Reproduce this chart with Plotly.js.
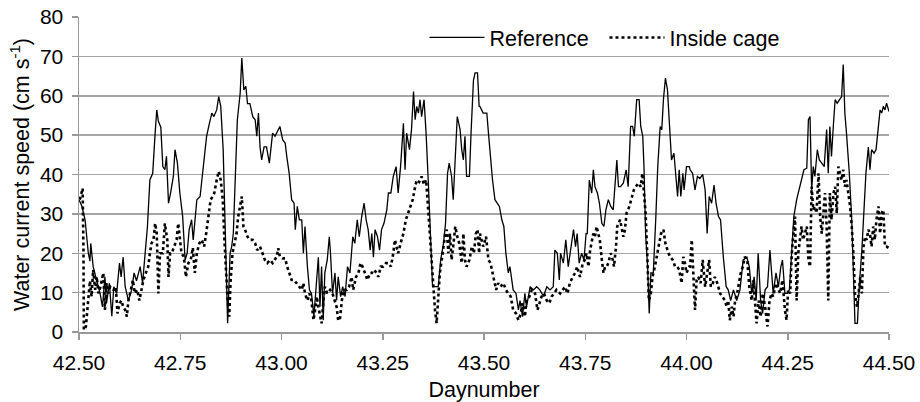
<!DOCTYPE html>
<html>
<head>
<meta charset="utf-8">
<script src="https://cdn.plot.ly/plotly-3.0.1.min.js"></script>
<style>html,body{margin:0;padding:0;background:#fff;}#chart{width:920px;height:402px;}</style>
</head>
<body>
<div id="chart"></div>
<script>
const refDay = [42.500,42.507,42.515,42.523,42.527,42.529,42.535,42.544,42.552,42.558,42.564,42.568,42.575,42.581,42.586,42.593,42.600,42.604,42.609,42.614,42.622,42.630,42.636,42.642,42.651,42.657,42.663,42.669,42.675,42.682,42.688,42.692,42.696,42.702,42.707,42.712,42.716,42.721,42.726,42.733,42.737,42.743,42.749,42.756,42.762,42.767,42.772,42.778,42.782,42.786,42.791,42.799,42.807,42.815,42.822,42.828,42.833,42.840,42.845,42.850,42.856,42.860,42.865,42.867,42.873,42.877,42.881,42.885,42.891,42.898,42.902,42.907,42.912,42.916,42.922,42.929,42.935,42.939,42.943,42.947,42.951,42.957,42.963,42.970,
42.978,42.984,42.990,42.996,43.003,43.009,43.013,43.019,43.025,43.031,43.034,43.039,43.044,43.050,43.054,43.058,43.064,43.069,43.074,43.080,43.085,43.091,43.095,43.099,43.103,43.107,43.113,43.118,43.121,43.126,43.132,43.136,43.140,43.146,43.151,43.157,43.163,43.169,43.176,43.181,43.187,43.192,43.198,43.204,43.209,43.214,43.219,43.223,43.227,43.231,43.237,43.242,43.247,43.253,43.260,43.264,43.270,43.276,43.283,43.288,43.294,43.301,43.305,43.309,43.316,43.321,43.326,43.330,43.334,43.338,43.342,43.346,43.352,43.357,43.363,43.368,43.373,43.377,43.383,43.387,43.393,43.400,43.405,43.410,43.414,43.420,43.424,43.429,43.434,43.441,43.445,43.449,43.453,43.457,43.464,43.468,43.474,43.478,43.484,43.488,
43.490,43.498,43.507,43.511,43.515,43.521,43.527,43.533,43.538,43.544,43.549,43.554,43.560,43.564,43.568,43.572,43.579,43.585,43.589,43.595,43.601,43.605,43.614,43.622,43.630,43.638,43.647,43.655,43.663,43.671,43.675,43.681,43.686,43.689,43.696,43.702,43.708,43.714,43.721,43.726,43.730,43.735,43.741,43.747,43.752,43.755,43.760,43.766,43.770,43.774,43.780,43.785,43.791,43.796,43.801,43.807,43.813,43.819,43.823,43.828,43.832,43.837,43.844,43.851,43.856,43.862,43.867,43.871,43.877,43.883,43.887,43.892,43.895,43.899,43.904,43.908,43.912,43.918,43.924,43.929,43.935,43.939,43.943,43.948,43.953,43.958,43.963,43.969,43.974,43.978,43.982,43.986,43.991,43.994,44.000,44.007,
44.009,44.015,44.021,44.027,44.033,44.040,44.046,44.051,44.056,44.062,44.068,44.073,44.079,44.084,44.091,44.098,44.103,44.109,44.116,44.124,44.132,44.140,44.149,44.155,44.161,44.167,44.172,44.177,44.183,44.188,44.194,44.200,44.206,44.210,44.214,44.221,44.227,44.233,44.237,44.243,44.249,44.254,44.260,44.265,44.272,44.279,44.284,44.290,44.297,44.301,44.305,44.309,44.313,44.317,44.323,44.328,44.334,44.340,44.346,44.350,44.354,44.358,44.363,44.367,44.372,44.379,44.383,44.387,44.391,44.395,44.402,44.408,44.412,44.416,44.422,44.427,44.433,44.438,44.443,44.449,44.453,44.457,44.463,44.468,44.474,44.478,44.482,44.486,44.490,44.494,44.500];
const refSpeed = [33.6,32,28.5,20,18,22.5,16.6,13,9.8,6.4,14,7.3,12.4,4,11.5,9.8,17.5,14,19,11.5,8,10.7,15,13,16.6,12.4,19,26.8,38.6,40.3,50.5,56.4,53.5,52,42,41.2,44.6,32.7,35.3,39.5,46.3,42.9,35.3,29.3,18.3,20,26,28.5,23.4,28.5,33.6,34.4,42,49.7,53,55.6,54.7,56.4,59.8,57.3,46.3,31.9,8,2.2,20,21.7,25,38.6,53.9,60.7,69.6,61.5,62.4,58,58,54.7,53.9,49.7,55.6,47,43.7,47,47,42.9,
50.5,49.7,51,52.2,48.8,48,44.6,40.3,33.6,32.7,26,31.9,28.5,28.5,20,26.8,16.6,10.7,9.8,4,10.7,19,6.4,16.6,3,15,18.3,24.2,20,9.8,15,8,14,9,11.5,9,16.6,15,24.2,22.5,28.5,24.2,29.3,32.7,28.5,26,20.8,25,19,26,24.2,20.8,26,27.6,31,35.3,35.3,39.5,42,35.3,42,53,41.2,50.5,46.3,51.4,61.1,53.9,57.3,55.6,59,54.7,59,50.5,36.9,25,11.5,11.5,11.5,11.5,18.3,22.5,27.6,40.3,42.9,39.5,33.6,46.3,54.7,51.4,46.3,43.7,49.7,39.5,39.5,50.5,64,65.8,65.8,57.3,
57.3,55.6,55.6,50.5,45.4,38.6,33.6,32.7,31.9,28.5,26.8,20,15,16.6,14,10.7,9.8,5.6,8,3.9,9.8,6.4,11.5,10.7,11.5,10.7,9,11.5,10.7,11.5,20.8,20,13.2,20,17.5,23.4,16.6,20.8,26,21.7,25,17.5,20,18.3,25,25,38.6,35.3,41.2,36.9,35.3,32.7,27.6,26.8,31,33.6,31.9,31,37.8,43.7,36.9,36.9,37.8,41.2,36.9,52.2,52.2,49.7,59,59,52.2,49.7,42,25,16.6,4.7,15,15,28.5,42,52.2,51.4,59,64.5,61.5,51.4,43.7,45.4,39.5,34.4,41.2,34.4,40.3,36.1,42,42,
41.2,40.3,36.1,39.5,39,40,36.1,25,34.4,32.7,37.3,32.7,29.3,28.5,19,11.5,10.7,8,10.7,8,10.7,18.3,19,16.6,9.8,14,8,20,8,4.7,10.7,11.5,20.8,15,9.8,15,11.5,16.6,18.3,9.8,9.8,10.7,20,29.3,33.6,36.9,38.6,41.2,41.6,53.9,54.7,36.1,42,39.5,46.3,43.7,42.9,42,51.4,40.3,52.2,44.6,53,59,58.1,59,59.8,67.9,55.6,50.5,40.3,28.5,15,2.2,2.2,12.4,20.8,30.2,40.3,47,41.2,46.3,45.4,46.3,52.2,56.4,55.6,57.3,56.4,58.1,56];

const cageDay = [42.502,42.509,42.511,42.512,42.517,42.523,42.527,42.531,42.535,42.540,42.544,42.548,42.553,42.560,42.564,42.568,42.572,42.577,42.585,42.591,42.595,42.600,42.605,42.609,42.614,42.618,42.622,42.628,42.633,42.638,42.644,42.649,42.655,42.659,42.665,42.671,42.675,42.679,42.684,42.688,42.692,42.696,42.700,42.707,42.712,42.718,42.721,42.725,42.729,42.735,42.741,42.745,42.749,42.753,42.759,42.764,42.770,42.776,42.781,42.786,42.791,42.797,42.803,42.809,42.814,42.819,42.825,42.830,42.834,42.840,42.845,42.850,42.855,42.859,42.863,42.867,42.871,42.874,42.879,42.885,42.889,42.893,42.898,42.902,42.906,42.910,42.916,42.922,42.929,42.935,42.940,42.947,42.953,42.959,42.965,
42.972,42.978,42.984,42.988,42.992,42.996,43.003,43.009,43.014,43.019,43.025,43.031,43.037,43.044,43.050,43.054,43.058,43.064,43.069,43.074,43.079,43.083,43.087,43.091,43.095,43.099,43.103,43.107,43.113,43.120,43.126,43.132,43.136,43.140,43.144,43.149,43.153,43.161,43.167,43.173,43.177,43.184,43.190,43.195,43.200,43.206,43.212,43.219,43.223,43.228,43.235,43.239,43.245,43.251,43.258,43.264,43.270,43.276,43.280,43.284,43.288,43.294,43.301,43.307,43.313,43.319,43.324,43.330,43.334,43.340,43.346,43.352,43.357,43.360,43.365,43.371,43.375,43.379,43.383,43.387,43.391,43.398,43.404,43.408,43.412,43.416,43.420,43.424,43.429,43.434,43.439,43.445,43.449,43.453,43.457,43.464,43.470,43.475,43.480,43.484,43.488,
43.490,43.498,43.505,43.511,43.516,43.523,43.530,43.535,43.541,43.548,43.554,43.560,43.566,43.572,43.579,43.585,43.591,43.595,43.601,43.605,43.612,43.618,43.626,43.632,43.637,43.642,43.648,43.655,43.661,43.667,43.673,43.679,43.688,43.694,43.700,43.706,43.712,43.719,43.725,43.730,43.737,43.744,43.749,43.753,43.758,43.762,43.766,43.770,43.774,43.778,43.782,43.786,43.791,43.795,43.799,43.803,43.807,43.813,43.818,43.821,43.826,43.829,43.836,43.840,43.844,43.848,43.852,43.859,43.865,43.870,43.875,43.881,43.887,43.891,43.895,43.899,43.903,43.907,43.912,43.916,43.922,43.926,43.932,43.937,43.943,43.948,43.953,43.959,43.966,43.972,43.977,43.982,43.988,43.992,43.996,44.000,44.007,
44.009,44.013,44.017,44.021,44.025,44.029,44.035,44.040,44.046,44.051,44.056,44.060,44.065,44.070,44.076,44.083,44.089,44.095,44.099,44.103,44.107,44.112,44.116,44.120,44.125,44.130,44.134,44.139,44.144,44.150,44.155,44.161,44.165,44.170,44.173,44.178,44.183,44.188,44.194,44.200,44.205,44.210,44.214,44.221,44.227,44.231,44.237,44.243,44.247,44.251,44.256,44.260,44.264,44.268,44.272,44.276,44.280,44.284,44.288,44.293,44.297,44.301,44.305,44.309,44.313,44.317,44.321,44.326,44.330,44.334,44.338,44.342,44.346,44.350,44.354,44.358,44.363,44.367,44.371,44.375,44.379,44.383,44.387,44.391,44.395,44.400,44.404,44.408,44.412,44.416,44.421,44.425,44.429,44.433,44.437,44.441,44.445,44.449,44.453,44.457,44.461,44.465,44.469,44.474,44.478,44.482,44.486,44.490,44.494,44.500];
const cageSpeed = [33.6,36.5,20.8,0.5,1.4,8,13,9,15.8,10.7,14,9.8,11.5,15,5.6,12.4,9.8,11.5,10.7,11.5,4.7,7.3,8,6.4,5.6,3.9,8,10.7,13.2,9.8,10.7,8,10.7,13.2,15,16.6,20,22.5,23.4,27.6,25,9.8,20,20,27.6,23.4,14,20,20,21.7,23.4,27.6,23.4,20,19.1,14,17.5,18.3,21.4,15,20,22.5,23.4,21.7,25,29.3,33.6,34.4,35.3,38.6,40.8,38.6,33.6,23.4,15,8,3.9,12.4,20,23.4,25,29.3,31.9,34.4,26.8,26,24.2,23.4,23.4,22.5,20.8,21.7,20,18.3,17.5,
18.3,17.5,18.3,19.1,21.3,19.1,18.7,18.7,16.6,15,13.2,13.2,12.4,11.5,10.7,12.4,9.8,8,9.8,8,3,5.6,9,6.4,4.7,2.2,7.3,11.5,9.8,10.7,9.8,8,6.4,3,3,8,10.7,10.7,11.5,14,10.7,14,15,17.5,16.6,15,13.2,15,15,15.8,15,14,16.6,16.6,17.5,17.5,16.6,20,23.4,21.7,20,22.5,25,28.5,30.2,31.9,33.6,36.9,38.6,38.1,39.5,37.4,38.6,34.4,26.8,20,11.5,5.6,2.2,9.8,15,20,25,26,20,25,18.3,21.7,26.8,24.2,22.5,17.5,25,18.3,16.6,18.3,21.7,20,25,26,20,
25,21.7,24.2,18.3,17.5,14,10.7,12.4,11.5,12.4,10.7,9.8,9,5.6,4.7,3,4.7,7.3,3.9,8,9,10.7,9.8,5.6,7.3,9,9.8,8,7.3,9,9.8,10.7,9.8,10.7,11.5,9.8,12.4,14,15,16.6,14,17.5,18.3,20,16.6,20.8,22.5,25,24.2,26.8,25,23.4,18.3,15,16.6,16.6,17.5,20,18.3,16.6,21.7,26.8,28.5,26,24.2,26,30.2,31.9,34.4,36.1,36.9,37.8,36.9,40.3,35.3,30.2,20,8,9.8,14,16.6,19.1,21.7,25,26,22.5,20.8,19.1,18.3,16.6,16.6,15.8,12.4,19.1,17.5,15,16.6,
16.6,23.4,13.2,5.6,13.2,14,12.4,18.3,11.5,15,18.3,11.5,12.4,14,12.4,9.8,9,8,6.4,8,3,6.4,3.9,8,9.8,12.4,15,16.6,19.1,18.3,11.5,8,13.2,6.4,2.2,8,3.9,9.8,6.4,1.4,8,9.8,9,12.4,10.7,9.8,13.2,5.6,3,10.7,9.8,20,25,29.3,8,20,23.4,26.8,23.4,25,26.8,18.3,16.6,36.9,31,31.9,30.2,40.3,29.3,25,30.2,35.3,26.8,8,35.3,28.5,35.3,36.9,30.2,42,40.3,38.6,41.2,36.9,38.6,35.3,31.9,26.8,20,9.8,6.4,9.8,14,9.8,21.7,24.2,23.4,26,25,21.7,26.8,23.4,28.5,31.9,25,30.2,31,21.7,21.7,21.3];

const seriesNames = ['Reference', 'Inside cage'];
const xTickVals = [42.5, 42.75, 43.0, 43.25, 43.5, 43.75, 44.0, 44.25, 44.5];
const xTickText = ['42.50','42.75','43.00','43.25','43.50','43.75','44.00','44.25','44.50'];
const yTickVals = [0,10,20,30,40,50,60,70,80];

const FONT = 'Liberation Sans, Arial, sans-serif';

const traces = [
  {x: refDay, y: refSpeed, name: seriesNames[0], type: 'scatter', mode: 'lines',
   line: {color: '#000000', width: 1.3}},
  {x: cageDay, y: cageSpeed, name: seriesNames[1], type: 'scatter', mode: 'lines',
   line: {color: '#000000', width: 2.6, dash: 'dot'}}
];

const layout = {
  width: 920, height: 402,
  margin: {l: 79, r: 31, t: 17, b: 70},
  paper_bgcolor: '#ffffff', plot_bgcolor: '#ffffff',
  font: {family: FONT, size: 21, color: '#000000'},
  showlegend: true,
  legend: {orientation: 'h', x: 0.4265, xanchor: 'left', y: 0.935, yanchor: 'middle',
    bgcolor: 'rgba(0,0,0,0)', borderwidth: 0, font: {family: FONT, size: 21.5, color: '#000'},
    itemwidth: 55, entrywidth: 110, traceorder: 'normal'},
  xaxis: {range: [42.5, 44.5], tickvals: xTickVals, ticktext: xTickText,
    showgrid: false, zeroline: false, showline: true, linecolor: '#999999', linewidth: 1.5,
    ticks: 'outside', ticklen: 6, tickcolor: '#999999', tickwidth: 1.5, ticklabelstandoff: 5,
    tickfont: {family: FONT, size: 21, color: '#000'},
    title: {text: 'Daynumber', font: {family: FONT, size: 21.5, color: '#000'}, standoff: 10}},
  yaxis: {range: [0, 80], tickvals: yTickVals,
    showgrid: true, gridcolor: '#a6a6a6', gridwidth: 1.5, zeroline: false,
    showline: true, linecolor: '#999999', linewidth: 1.5,
    ticks: 'outside', ticklen: 6, tickcolor: '#999999', tickwidth: 1.5, ticklabelstandoff: 4,
    tickfont: {family: FONT, size: 21, color: '#000'},
    title: {text: 'Water current speed (cm s<sup>-1</sup>)', font: {family: FONT, size: 21.5, color: '#000'}, standoff: 4}}
};

Plotly.newPlot('chart', traces, layout, {displayModeBar: false, staticPlot: true});
</script>
</body>
</html>
